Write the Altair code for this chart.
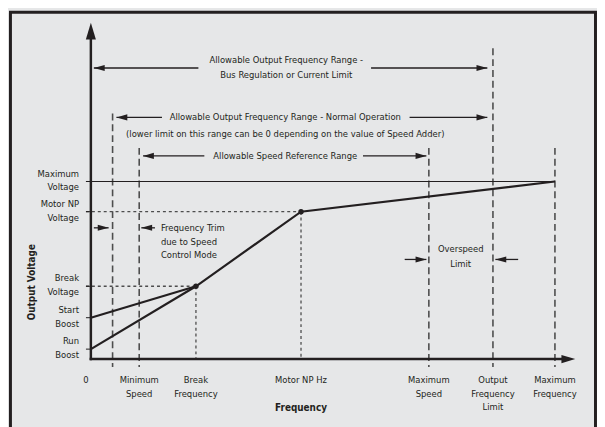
import altair as alt
import pandas as pd

# ---------------- chart values (conceptual units: frequency in Hz-like units, voltage in % of max) -------------
freq_names = ["0", "Trim limit", "Minimum Speed", "Break Frequency", "Motor NP Hz",
              "Maximum Speed", "Output Frequency Limit", "Maximum Frequency"]
freq_values = [0, 6.2, 13.8, 30, 60, 96.5, 114.8, 132.5]

volt_names = ["Run Boost", "Start Boost", "Break Voltage", "Motor NP Voltage", "Maximum Voltage"]
volt_values = [5.6, 23.3, 41, 83, 100]

# V/Hz curve
curve_series = ["start", "start", "run", "run", "run", "run"]
curve_freq = [0, 30, 0, 30, 60, 132.5]
curve_volt = [23.3, 41, 5.6, 41, 83, 100]

# knee points on the curve
knee_freq = [30, 60]
knee_volt = [41, 83]

# vertical guide lines
vline_freq = [6.2, 13.8, 30, 60, 96.5, 114.8, 132.5]
vline_top = [138.3, 118.9, 41, 83, 118.9, 175, 118.9]
vline_bottom = [-4.4, -4.4, 0, 0, -4.4, -4.4, -4.4]
vline_style = ["dash", "dash", "dot", "dot", "dash", "dash", "dash"]

# horizontal guide lines
hline_volt = [41, 83, 100]
hline_end = [30, 60, 132.5]
hline_style = ["dot", "dot", "solid"]

# range arrows: level, tail, tip
arrow_volt = [163.9, 163.9, 136.1, 136.1, 114.4, 114.4, 73.9, 73.9, 56.1, 56.1]
arrow_tail = [30.7, 80.0, 20.3, 91.0, 32.4, 77.7, 0.85, 18.3, 89.6, 122.0]
arrow_tip = [0.85, 113.2, 7.3, 113.2, 14.9, 95.8, 5.07, 14.4, 95.8, 115.5]

# labels
ylab_text = ["Maximum\nVoltage", "Motor NP\nVoltage", "Break\nVoltage", "Start\nBoost", "Run\nBoost"]
ylab_volt = [100, 83, 41, 23.3, 5.6]

xlab_text = ["0", "Minimum\nSpeed", "Break\nFrequency", "Motor NP Hz", "Maximum\nSpeed",
             "Output\nFrequency\nLimit", "Maximum\nFrequency"]
xlab_freq = [-1.4, 13.8, 30, 60, 96.5, 114.8, 132.5]

note_text = ["Allowable Output Frequency Range -\nBus Regulation or Current Limit",
             "Allowable Output Frequency Range - Normal Operation",
             "(lower limit on this range can be 0 depending on the value of Speed Adder)",
             "Allowable Speed Reference Range",
             "Overspeed\nLimit"]
note_freq = [55.8, 55.5, 55.5, 55.5, 105.6]
note_volt = [168.3, 136.1, 126.6, 114.4, 61.7]

trim_text = ["Frequency Trim\ndue to Speed\nControl Mode"]
trim_freq = [20]
trim_volt = [73.9]

# ---------------- layout helpers ----------------
X_DOMAIN = [-23.66, 144.51]
Y_DOMAIN = [-36.67, 196.11]
FONT = "'Liberation Sans Narrow', 'DejaVu Sans Condensed', 'Roboto Condensed', 'Open Sans Condensed', 'Noto Sans', sans-serif"
INK = "#231f20"
DASH_GREY = "#4d4d4d"
FS = 9.5

xs = alt.Scale(domain=X_DOMAIN, nice=False, zero=False)
ys = alt.Scale(domain=Y_DOMAIN, nice=False, zero=False)


def X(f):
    return alt.X(f"{f}:Q", scale=xs, axis=None)


def Y(f):
    return alt.Y(f"{f}:Q", scale=ys, axis=None)


def seg_chart(df, **mark):
    return alt.Chart(df).mark_rule(**mark).encode(x=X("x"), y=Y("y"), x2="x2:Q", y2="y2:Q")


# frame
frame_df = pd.DataFrame({"x": [-22.96], "x2": [144.08], "y": [195.3], "y2": [-45.0]})
frame = alt.Chart(frame_df).mark_rect(fillOpacity=0, stroke=INK, strokeWidth=3).encode(
    x=X("x"), x2="x2:Q", y=Y("y"), y2="y2:Q")

# axes (arrowed)
axes_df = pd.DataFrame({"x": [0, 0], "y": [0, 0], "x2": [0, 135.5], "y2": [182.0, 0]})
axes = seg_chart(axes_df, color=INK, strokeWidth=2.5, strokeCap="square")
up_head = alt.Chart(pd.DataFrame({"x": [0], "y": [189.4]})).mark_point(
    shape="M0,0L0.3,1L-0.3,1Z", size=1156, filled=True, color=INK, opacity=1).encode(x=X("x"), y=Y("y"))
right_axis_head = alt.Chart(pd.DataFrame({"x": [138.3], "y": [0]})).mark_point(
    shape="M0,0L-1,-0.3L-1,0.3Z", size=784, filled=True, color=INK, opacity=1).encode(x=X("x"), y=Y("y"))

# y ticks
ytick_df = pd.DataFrame({"x": -1.4, "x2": 0, "y": volt_values, "y2": volt_values})
yticks = seg_chart(ytick_df, color=INK, strokeWidth=1)

# vertical guides
vdf = pd.DataFrame({"x": vline_freq, "x2": vline_freq, "y": vline_top, "y2": vline_bottom, "s": vline_style})
v_dash = seg_chart(vdf[vdf.s == "dash"], color=DASH_GREY, strokeWidth=1.6, strokeDash=[7, 4])
v_dot = seg_chart(vdf[vdf.s == "dot"], color=DASH_GREY, strokeWidth=1.3, strokeDash=[3, 3])

# horizontal guides
hdf = pd.DataFrame({"x": -1.4, "x2": hline_end, "y": hline_volt, "y2": hline_volt, "s": hline_style})
h_dot = seg_chart(hdf[hdf.s == "dot"], color=DASH_GREY, strokeWidth=1.3, strokeDash=[3, 3])
h_solid = seg_chart(hdf[hdf.s == "solid"], color=INK, strokeWidth=1.1)

# curve
cdf = pd.DataFrame({"f": curve_freq, "v": curve_volt, "s": curve_series, "o": range(len(curve_freq))})
curve = alt.Chart(cdf).mark_line(color=INK, strokeWidth=2.2).encode(
    x=X("f"), y=Y("v"), detail="s:N", order="o:Q")
knees = alt.Chart(pd.DataFrame({"f": knee_freq, "v": knee_volt})).mark_point(
    shape="circle", size=30, filled=True, color=INK, opacity=1).encode(x=X("f"), y=Y("v"))

# arrows
adf = pd.DataFrame({"x": arrow_tail, "x2": arrow_tip, "y": arrow_volt, "y2": arrow_volt})
adf["dir"] = ["right" if t > s else "left" for s, t in zip(arrow_tail, arrow_tip)]
arrow_lines = seg_chart(adf, color=INK, strokeWidth=1.3)
heads_r = alt.Chart(adf[adf.dir == "right"]).mark_point(
    shape="M0,0L-1,-0.28L-1,0.28Z", size=484, filled=True, color=INK, opacity=1).encode(x=X("x2"), y=Y("y"))
heads_l = alt.Chart(adf[adf.dir == "left"]).mark_point(
    shape="M0,0L1,-0.28L1,0.28Z", size=484, filled=True, color=INK, opacity=1).encode(x=X("x2"), y=Y("y"))

# text (multi-line text is anchored at its first line)
ylab = alt.Chart(pd.DataFrame({"t": ylab_text, "v": ylab_volt, "f": -3.38})).mark_text(
    font=FONT, fontSize=FS, color=INK, align="right", baseline="middle", lineBreak="\n", lineHeight=14, dy=-8
).encode(x=X("f"), y=Y("v"), text="t:N")

xlab = alt.Chart(pd.DataFrame({"t": xlab_text, "f": xlab_freq, "v": -11.67})).mark_text(
    font=FONT, fontSize=FS, color=INK, align="center", baseline="middle", lineBreak="\n", lineHeight=14
).encode(x=X("f"), y=Y("v"), text="t:N")

notes = alt.Chart(pd.DataFrame({"t": note_text, "f": note_freq, "v": note_volt})).mark_text(
    font=FONT, fontSize=FS, color=INK, align="center", baseline="middle", lineBreak="\n", lineHeight=15
).encode(x=X("f"), y=Y("v"), text="t:N")

trim = alt.Chart(pd.DataFrame({"t": trim_text, "f": trim_freq, "v": trim_volt})).mark_text(
    font=FONT, fontSize=FS, color=INK, align="left", baseline="middle", lineBreak="\n", lineHeight=14
).encode(x=X("f"), y=Y("v"), text="t:N")

titles = alt.Chart(pd.DataFrame({"t": ["Frequency", "Output Voltage"], "f": [60, -16.9], "v": [-27.8, 43.3],
                                 "a": [0, 270]})).mark_text(
    font=FONT, fontSize=10, fontWeight="bold", color=INK, align="center", baseline="middle"
).encode(x=X("f"), y=Y("v"), text="t:N", angle=alt.Angle("a:Q", scale=None))

chart = alt.layer(
    frame, v_dash, v_dot, h_dot, h_solid, yticks, axes, up_head, right_axis_head,
    curve, knees, arrow_lines, heads_r, heads_l, ylab, xlab, notes, trim, titles
).properties(
    width=597, height=419, padding=0, autosize=alt.AutoSizeParams(type="none")
).configure(background="#e6e7e8").configure_view(stroke=None)

chart.save("out.html", embed_options={"renderer": "svg", "actions": False})
